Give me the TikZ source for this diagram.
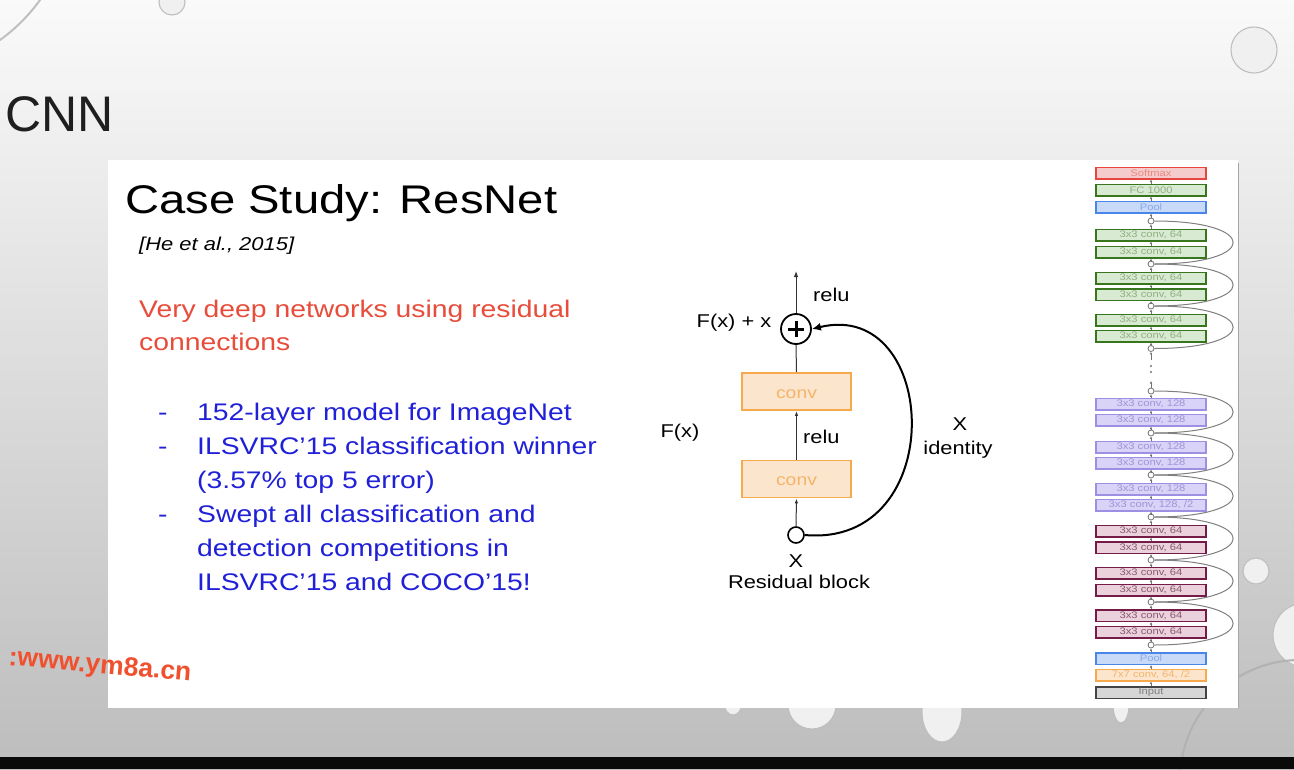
\documentclass[tikz,border=0pt]{standalone}
\usepackage{fontspec}
\setmainfont{Liberation Sans}[FakeStretch=1.18]
\newfontfamily\plainsans{Liberation Sans}
\usetikzlibrary{arrows.meta}
\definecolor{slRed}{HTML}{E84C3A}
\definecolor{slBlue}{HTML}{2020D8}
\definecolor{redB}{HTML}{E8453C}\definecolor{redF}{HTML}{F4CCCC}\definecolor{redT}{HTML}{E88A82}
\definecolor{grnB}{HTML}{38761D}\definecolor{grnF}{HTML}{D9EAD3}\definecolor{grnT}{HTML}{8FB07F}
\definecolor{bluB}{HTML}{4A86E8}\definecolor{bluF}{HTML}{C9DAF8}\definecolor{bluT}{HTML}{86A8E7}
\definecolor{purB}{HTML}{9D8FE3}\definecolor{purF}{HTML}{D8D3F7}\definecolor{purT}{HTML}{9F94D8}
\definecolor{marB}{HTML}{741B47}\definecolor{marF}{HTML}{EAD1DC}\definecolor{marT}{HTML}{8A5A6E}
\definecolor{orgB}{HTML}{F6A94D}\definecolor{orgF}{HTML}{FCE5CD}\definecolor{orgT}{HTML}{F3B56B}
\definecolor{gryB}{HTML}{434343}\definecolor{gryF}{HTML}{D6D6D6}\definecolor{gryT}{HTML}{808080}
\definecolor{wmark}{HTML}{F0502D}
\begin{document}
\begin{tikzpicture}[x=1pt,y=-1pt,
  txt/.style={inner sep=0pt, anchor=base west},
  lbl/.style={inner sep=0pt, font=\fontsize{18.5}{20}\selectfont},
  sbox/.style={draw, line width=1.5pt, minimum width=110pt, minimum height=11.5pt, inner sep=0pt, font=\fontsize{9.5}{10}\selectfont},
  sred/.style={sbox, draw=redB, fill=redF, text=redT},
  sgrn/.style={sbox, draw=grnB, fill=grnF, text=grnT},
  sblu/.style={sbox, draw=bluB, fill=bluF, text=bluT},
  spur/.style={sbox, draw=purB, fill=purF, text=purT},
  smar/.style={sbox, draw=marB, fill=marF, text=marT},
  sorg/.style={sbox, draw=orgB, fill=orgF, text=orgT},
  sgry/.style={sbox, draw=gryB, fill=gryF, text=gryT},
  circ/.style={circle, draw=black!55, fill=white, inner sep=0pt, minimum size=6pt, line width=0.8pt},
  skiparc/.style={draw=black!50, line width=1pt},
  vline/.style={draw=black!55, line width=0.8pt, -{Latex[length=2.5pt,width=2.5pt]}},
  convbox/.style={draw=orgB, fill=orgF, line width=1.8pt, minimum width=109pt, minimum height=37pt, inner sep=0pt, text=orgT, text height=13pt, text depth=0pt, font=\fontsize{16.4}{17}\selectfont},
  resline/.style={draw=black!80, line width=1pt},
  drop/.style={draw=black!25, fill=white!94!black, line width=1.1pt}
]
\useasboundingbox (0,0) rectangle (1294,769);
\clip (0,0) rectangle (1294,769);
% background
\shade[top color=white!98!black, middle color=white!92!black, bottom color=white!74!black] (0,0) rectangle (1294,769);
% droplets
\draw[black!25, line width=2pt] (-100,-100) circle[radius=172pt];
\draw[drop] (172,2) circle[radius=13pt];
\draw[drop] (1254,50) circle[radius=23pt];
\draw[drop] (1256,571) circle[radius=13pt];
\draw[drop] (1305,635) circle[radius=32pt];
\draw[drop] (733,703) ellipse[x radius=9pt, y radius=12pt];
\draw[drop] (812,705) ellipse[x radius=24pt, y radius=24pt];
\draw[drop] (942,712) ellipse[x radius=20pt, y radius=30pt];
\draw[drop] (1121,705) ellipse[x radius=8pt, y radius=18pt];
\draw[black!30, line width=2pt] (1300,780) circle[radius=120pt];
% black bar
\fill[black!96] (0,757) rectangle (1294,769);
% slide panel
\fill[white] (108,160) rectangle (1238,708);
\draw[black!35, line width=0.8pt] (1238,163) -- (1238,708);

% outer title
\node[txt, font=\plainsans\fontsize{50}{50}\selectfont, text=black!88] (cnn) at (5,131) {CNN};

% slide text
\node[txt, font=\fontsize{40}{42}\selectfont] (title) at (125,213) {Case Study: ResNet};
\node[txt, font=\itshape\fontsize{18.6}{20}\selectfont] (cite) at (139,250) {[He et al., 2015]};
\node[txt, font=\fontsize{24}{33}\selectfont, text=slRed] (red1) at (139,317) {Very deep networks using residual};
\node[txt, font=\fontsize{24}{33}\selectfont, text=slRed] (red2) at (139,350) {connections};
\begin{scope}[every node/.style={txt, font=\fontsize{24}{33}\selectfont, text=slBlue}]
\node (d1) at (158,420) {-};
\node (b1) at (197,420) {152-layer model for ImageNet};
\node (d2) at (158,454) {-};
\node (b2) at (197,454) {ILSVRC’15 classification winner};
\node (b3) at (197,488) {(3.57\% top 5 error)};
\node (d3) at (158,522) {-};
\node (b4) at (197,522) {Swept all classification and};
\node (b5) at (197,556) {detection competitions in};
\node (b6) at (197,590) {ILSVRC’15 and COCO’15!};
\end{scope}

% residual block
\node[circle, draw=black, line width=1.8pt, minimum size=30pt, inner sep=0pt] (plus) at (796,329) {};
\draw[line width=3pt] ([xshift=-8pt]plus.center) -- ([xshift=8pt]plus.center);
\draw[line width=3pt] ([yshift=-8pt]plus.center) -- ([yshift=8pt]plus.center);
\node[convbox] (conv2) at (796.5,391.5) {conv};
\node[convbox] (conv1) at (796.5,479) {conv};
\node[circle, draw=black, line width=1.6pt, minimum size=16pt, inner sep=0pt, fill=white] (xin) at (796,535) {};
\coordinate (outtop) at (796,271);
\draw[resline, -{Latex[length=6pt,width=4.5pt]}] (plus.north) -- (outtop);
\draw[resline] (conv2.north) -- (plus.south);
\draw[resline, -{Latex[length=5pt,width=3.5pt]}] (conv1.north) -- (conv2.south);
\draw[resline, -{Latex[length=5pt,width=3.5pt]}] (xin.north) -- (conv1.south);
\draw[draw=black, line width=2pt, -{Latex[length=9pt,width=8pt]}] (xin.east) .. controls (950,548) and (940,298) .. (plus.east);
\node[lbl, anchor=west] (relu1) at (813,295) {relu};
\node[lbl, anchor=west] (relu2) at (803,437) {relu};
\node[lbl] (fxx) at (734,323) {F(x) + x};
\node[lbl] (fx) at (680,433) {F(x)};
\node[lbl] (xid) at (960,424) {X};
\node[lbl] (ident) at (958,450) {identity};
\node[lbl] (xbot) at (796,561) {X};
\node[lbl] (resb) at (799,582) {Residual block};

% ResNet stack
\node[sred] (sm) at (1151,173) {Softmax};
\node[sgrn] (fc) at (1151,190) {FC 1000};
\node[sblu] (pt) at (1151,207) {Pool};
\node[circ] (c1) at (1151,221) {};
\node[sgrn] (g1) at (1151,235) {3x3 conv, 64};
\node[sgrn] (g2) at (1151,252) {3x3 conv, 64};
\node[circ] (c2) at (1151,264) {};
\node[sgrn] (g3) at (1151,278) {3x3 conv, 64};
\node[sgrn] (g4) at (1151,294.5) {3x3 conv, 64};
\node[circ] (c3) at (1151,306) {};
\node[sgrn] (g5) at (1151,320) {3x3 conv, 64};
\node[sgrn] (g6) at (1151,336) {3x3 conv, 64};
\node[circ] (c4) at (1151,348.5) {};
\coordinate (dA) at (1151,360);
\coordinate (dB) at (1151,381);
\node[circ] (c5) at (1151,391) {};
\node[spur] (p1) at (1151,404) {3x3 conv, 128};
\node[spur] (p2) at (1151,420) {3x3 conv, 128};
\node[circ] (c6) at (1151,433) {};
\node[spur] (p3) at (1151,447) {3x3 conv, 128};
\node[spur] (p4) at (1151,463) {3x3 conv, 128};
\node[circ] (c7) at (1151,475) {};
\node[spur] (p5) at (1151,489) {3x3 conv, 128};
\node[spur] (p6) at (1151,505) {3x3 conv, 128, /2};
\node[circ] (c8) at (1151,517) {};
\node[smar] (m1) at (1151,531) {3x3 conv, 64};
\node[smar] (m2) at (1151,547.5) {3x3 conv, 64};
\node[circ] (c9) at (1151,560) {};
\node[smar] (m3) at (1151,573) {3x3 conv, 64};
\node[smar] (m4) at (1151,590) {3x3 conv, 64};
\node[circ] (c10) at (1151,602) {};
\node[smar] (m5) at (1151,615.5) {3x3 conv, 64};
\node[smar] (m6) at (1151,632) {3x3 conv, 64};
\node[circ] (c11) at (1151,645) {};
\node[sblu] (pb) at (1151,658.5) {Pool};
\node[sorg] (or) at (1151,675) {7x7 conv, 64, /2};
\node[sgry] (in) at (1151,692.5) {Input};

\foreach \a/\b in {in/or, or/pb, pb/c11, c11/m6, m6/m5, m5/c10, c10/m4, m4/m3, m3/c9, c9/m2, m2/m1, m1/c8,
  c8/p6, p6/p5, p5/c7, c7/p4, p4/p3, p3/c6, c6/p2, p2/p1, p1/c5, c5/dB, dA/c4,
  c4/g6, g6/g5, g5/c3, c3/g4, g4/g3, g3/c2, c2/g2, g2/g1, g1/c1, c1/pt, pt/fc, fc/sm}
  \draw[vline] (\a) -- (\b);
\fill[black!55] (1151,366) circle[radius=1.1pt] (1151,372) circle[radius=1.1pt];

\foreach \a/\b in {c1/c2, c2/c3, c3/c4, c5/c6, c6/c7, c7/c8, c8/c9, c9/c10, c10/c11}
  \draw[skiparc] (\a) to[out=0, in=0, distance=105pt] (\b);

% watermark
\node[txt, rotate=-5, font=\plainsans\bfseries\fontsize{26.5}{27}\selectfont, text=wmark] (wm) at (8,665) {:www.ym8a.cn};
\end{tikzpicture}
\end{document}
